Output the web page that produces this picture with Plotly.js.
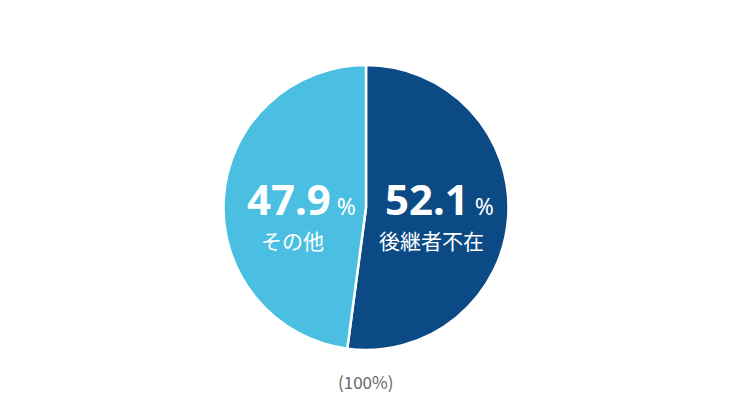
<!DOCTYPE html>
<html>
<head>
<meta charset="utf-8">
<script src="https://cdn.plot.ly/plotly-3.0.1.min.js"></script>
<style>
  html, body { margin: 0; padding: 0; background: #fff; }
  #chart { width: 730px; height: 417px; }
</style>
</head>
<body>
<div id="chart"></div>
<script>
// 後継者の有無 (円グラフ)
const labels = ['後継者不在', 'その他'];
const values = [52.1, 47.9];
const colors = ['#0b4a85', '#4bbfe2'];
const totalLabel = '(100%)';

// label spots inside each slice (pixels in the 730x417 picture)
const numX = [439, 301];
const catX = [431, 292];

const fontJP = '"Noto Sans CJK JP", "Noto Sans", sans-serif';
const fontNum = '"Noto Sans", "Open Sans", sans-serif';

let annotations = [];
for (let i = 0; i < labels.length; i++) {
    annotations.push({
        xref: 'paper', yref: 'paper',
        x: numX[i] / 730, y: 1 - 199 / 417,
        xanchor: 'center', yanchor: 'middle',
        text: `<b>${values[i].toFixed(1)}</b><span style="font-size:23px"> %</span>`,
        showarrow: false,
        font: {family: fontNum, size: 42, color: '#ffffff'}
    });
    annotations.push({
        xref: 'paper', yref: 'paper',
        x: catX[i] / 730, y: 1 - 240 / 417,
        xanchor: 'center', yanchor: 'middle',
        text: labels[i],
        showarrow: false,
        font: {family: fontJP, size: 21, color: '#ffffff'}
    });
}
annotations.push({
    xref: 'paper', yref: 'paper',
    x: 365 / 730, y: 1 - 381 / 417,
    xanchor: 'center', yanchor: 'middle',
    text: totalLabel,
    showarrow: false,
    font: {family: fontJP, size: 17, color: '#666666'}
});

let trace = {
    type: 'pie',
    labels: labels,
    values: values,
    sort: false,
    direction: 'clockwise',
    rotation: 0,
    textinfo: 'none',
    hoverinfo: 'label+percent',
    marker: {colors: colors, line: {color: '#ffffff', width: 2.5}},
    domain: {x: [223 / 730, 509 / 730], y: [1 - 350 / 417, 1 - 65 / 417]}
};

let layout = {
    width: 730,
    height: 417,
    margin: {l: 0, r: 0, t: 0, b: 0},
    showlegend: false,
    paper_bgcolor: '#ffffff',
    annotations: annotations
};

Plotly.newPlot('chart', [trace], layout, {displayModeBar: false, staticPlot: true});
</script>
</body>
</html>
